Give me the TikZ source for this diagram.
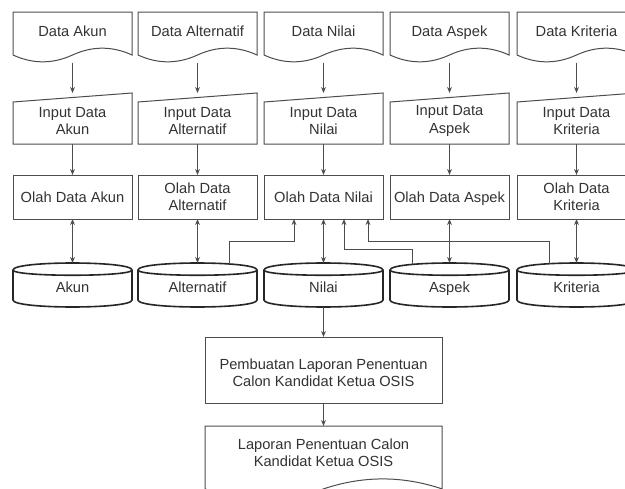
\documentclass[tikz,border=0pt]{standalone}
\usepackage{fontspec}
\setmainfont{Liberation Sans}
\usetikzlibrary{calc,arrows.meta}
\definecolor{ln}{HTML}{4D4D4D}
\definecolor{tx}{HTML}{333333}
\tikzset{
 sbox/.style={draw=none, inner sep=0pt, outer sep=0pt, anchor=north west},
 shp/.style={draw=ln, line width=0.75pt},
 cyl/.style={draw=black!85, line width=1.2pt},
 txt/.style={text=tx, font=\fontsize{11}{13.1}\selectfont, align=center, inner sep=0pt},
 txtone/.style={txt, text height=8pt, text depth=0pt},
 tip/.tip={Stealth[length=4.5pt,width=3.6pt]},
 arr/.style={draw=ln, line width=0.75pt, -tip},
 barr/.style={draw=ln, line width=0.75pt, tip-tip},
}
\newcommand\mycol[7]{%
 % document
 \node[sbox, minimum width=89.25pt, minimum height=37.95pt] (d#1) at (#2,12) {};
 \draw[shp] (#2,12) -- (#2+119,12) -- (#2+119,55)
   .. controls (#2+99.17,45.9) and (#2+79.33,45.9) .. (#2+59.5,55)
   .. controls (#2+39.67,64.1) and (#2+19.83,64.1) .. (#2,55) -- cycle;
 \node[txtone] (d#1t) at (#2+59.5,31) {#3};
 % manual input
 \node[sbox, minimum width=89.25pt, minimum height=38.25pt] (i#1) at (#2,93) {};
 \draw[shp] (#2,102) -- (#2+119,93) -- (#2+119,144) -- (#2,144) -- cycle;
 \node[txt] (i#1t) at (#2+59.5,121) {#4};
 % process
 \node[sbox, minimum width=89.25pt, minimum height=33pt] (o#1) at (#2,175) {};
 \draw[shp] (#2,175) rectangle (#2+119,219);
 \node[#7] (o#1t) at (#2+59.5,197) {#5};
 % cylinder
 \node[sbox, minimum width=89.25pt, minimum height=33pt] (c#1) at (#2,263) {};
 \draw[cyl] (#2,270) .. controls (#2,260.67) and (#2+119,260.67) .. (#2+119,270)
   -- (#2+119,300) .. controls (#2+119,309.33) and (#2,309.33) .. (#2,300) -- cycle;
 \draw[cyl] (#2,270) .. controls (#2,277) and (#2+119,277) .. (#2+119,270);
 \node[txtone] (c#1t) at (#2+59.5,287) {#6};
 % connectors
 \draw[arr] (d#1) -- (i#1);
 \draw[arr] (i#1) -- (o#1);
 \draw[barr] (o#1) -- (c#1);
}
\begin{document}
\begin{tikzpicture}[x=0.75pt,y=-0.75pt]
\useasboundingbox (0,0) rectangle (625,489);
\fill[white] (0,0) rectangle (625,489);
\clip (0,0) rectangle (625,489);
\mycol{1}{13}{Data Akun}{Input Data\\Akun}{Olah Data Akun}{Akun}{txtone}
\mycol{2}{138}{Data Alternatif}{Input Data\\Alternatif}{Olah Data\\Alternatif}{Alternatif}{txt}
\mycol{3}{264}{Data Nilai}{Input Data\\Nilai}{Olah Data Nilai}{Nilai}{txtone}
\mycol{4}{390}{Data Aspek}{Input Data\\Aspek}{Olah Data Aspek}{Aspek}{txtone}
\mycol{5}{517}{Data Kriteria}{Input Data\\Kriteria}{Olah Data\\Kriteria}{Kriteria}{txt}
% Pembuatan laporan
\node[sbox, minimum width=177.75pt, minimum height=49.5pt] (p) at (205,337) {};
\draw[shp] (205,337) rectangle (442,403);
\node[txt] (pt) at (323.5,372.5) {Pembuatan Laporan Penentuan\\Calon Kandidat Ketua OSIS};
% report document
\node[sbox, minimum width=177.75pt, minimum height=55.5pt] (r) at (205,426) {};
\draw[shp] (205,426) -- (442,426) -- (442,488.9)
  .. controls (402.5,475.6) and (363,475.6) .. (323.5,488.9)
  .. controls (284,502.2) and (244.5,502.2) .. (205,488.9) -- cycle;
\node[txt] (rt) at (323.5,453) {Laporan Penentuan Calon\\Kandidat Ketua OSIS};
% connectors
\draw[arr] (c3) -- (p);
\draw[arr] (p) -- (r);
\coordinate (s2) at ($(c2.north)+(31.5,1)$);
\coordinate (s4) at ($(c4.north)+(-37.5,1.4)$);
\coordinate (s5) at ($(c5.north)+(-27.5,0.7)$);
\draw[arr] (s2) |- ($(o3.south)+(-29.5,22)$) -- ($(o3.south)+(-29.5,0)$);
\draw[arr] (s4) |- ($(o3.south)+(20.5,30)$) -- ($(o3.south)+(20.5,0)$);
\draw[arr] (s5) |- ($(o3.south)+(44.5,22)$) -- ($(o3.south)+(44.5,0)$);
\end{tikzpicture}
\end{document}
